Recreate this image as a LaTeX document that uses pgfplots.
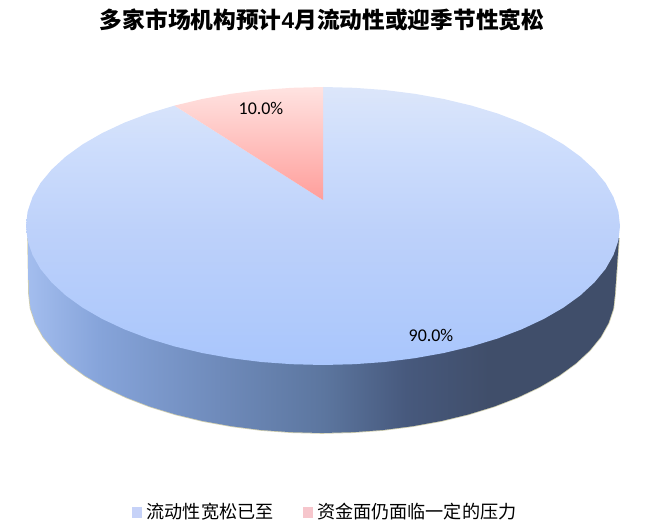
\documentclass[border=0pt]{standalone}
\usepackage{pgfplots}
\usepackage{pgfplotstable}
\usepackage{fontspec}
\pgfplotsset{compat=1.18}
\setmainfont{Carlito}
\newfontfamily\cjk{Noto Sans CJK SC}
\newfontfamily\arialb{Liberation Sans}

\definecolor{wallA}{HTML}{A3BDEE}
\definecolor{wallB}{HTML}{86A4DA}
\definecolor{wallC}{HTML}{6F8BBB}
\definecolor{wallD}{HTML}{5C769F}
\definecolor{wallE}{HTML}{47597D}
\definecolor{wallF}{HTML}{404E6A}
\definecolor{blueA}{HTML}{DCE6FA}
\definecolor{blueB}{HTML}{CDDDFC}
\definecolor{blueC}{HTML}{BDD1FA}
\definecolor{blueD}{HTML}{A9C6FC}
\definecolor{pinkTop}{HTML}{FFE3E1}
\definecolor{pinkBot}{HTML}{FF9E9B}
\definecolor{legBlue}{HTML}{C6D2F8}
\definecolor{legPink}{HTML}{F6C6CC}
% wall of the pie, light on the left and dark on the right
\pgfdeclarehorizontalshading{wall}{100bp}{
  color(0bp)=(wallA); color(25bp)=(wallA); color(31bp)=(wallB);
  color(41bp)=(wallC); color(50bp)=(wallD); color(57bp)=(wallE);
  color(64bp)=(wallF); color(100bp)=(wallF)}
% top of the big slice, stops run from the bottom up
\pgfdeclareverticalshading{bigslice}{100bp}{
  color(0bp)=(blueD); color(25bp)=(blueD); color(49bp)=(blueC);
  color(64bp)=(blueB); color(75bp)=(blueA); color(100bp)=(blueA)}

% bottom rim, pixel coordinates of the picture
\pgfplotstableread{
x y
619 238
615 294
613.4 308.5
608.6 322.9
600.7 337.0
589.7 350.5
575.7 363.5
559.0 375.7
539.7 387.0
518.0 397.3
494.2 406.5
468.5 414.4
441.2 421.0
412.5 426.2
382.9 430.0
352.6 432.2
322 433
291.4 432.2
261.1 430.0
231.5 426.2
202.8 421.0
175.5 414.4
149.8 406.5
126.0 397.3
104.3 387.0
85.0 375.7
68.3 363.5
54.3 350.5
43.3 337.0
35.4 322.9
30.6 308.5
29 294
28 238
}\rim

\begin{document}
\begin{tikzpicture}
\begin{axis}[
    scale only axis,
    width=656bp, height=532bp,
    xmin=0, xmax=656, ymin=0, ymax=532,
    y dir=reverse,
    hide axis,
    clip=false,
    title={\cjk\bfseries 多家市场机构预计{\arialb 4}月流动性或迎季节性宽松},
    title style={at={(0.491,0.951)}, anchor=center, font=\fontsize{22.8}{25}\selectfont},
    legend columns=2,
    legend style={at={(0.496,0.039)}, anchor=center, draw=none, fill=none,
        font=\cjk\fontsize{18.2}{20}\selectfont,
        /tikz/every odd column/.append style={column sep=3bp},
        /tikz/every even column/.append style={column sep=27bp}},
    legend image code/.code={\fill[#1] (0bp,-6bp) rectangle (9bp,4bp);},
]
\addlegendimage{legBlue}
\addlegendentry{流动性宽松已至}
\addlegendimage{legPink}
\addlegendentry{资金面仍面临一定的压力}

% keeps the page as large as the axis
\path (axis cs:0,0) (axis cs:656,532);

% soft shadow under the wall
\addplot[draw=gray!70!yellow, line width=1.6pt, opacity=0.6] table {\rim};
% wall
\addplot[draw=none, shading=wall] table {\rim} -- cycle;

% 90% slice
\addplot[draw=none, shading=bigslice] coordinates {
(323,200) (323,87)
(354.0,87.8) (384.7,90.0) (414.8,93.8) (443.8,99.0) (471.5,105.6)
(497.6,113.5) (521.7,122.7) (543.7,133.0) (563.3,144.3) (580.2,156.5)
(594.3,169.5) (605.5,183.0) (613.5,197.1) (618.4,211.5) (620,226)
(618.4,240.5) (613.5,254.9) (605.5,269.0) (594.3,282.5) (580.2,295.5)
(563.3,307.7) (543.7,319.0) (521.7,329.3) (497.6,338.5) (471.5,346.4)
(443.8,353.0) (414.8,358.2) (384.7,362.0) (354.0,364.2) (323,365)
(292.0,364.2) (261.3,362.0) (231.2,358.2) (202.2,353.0) (174.5,346.4)
(148.4,338.5) (124.3,329.3) (102.3,319.0) (82.7,307.7) (65.8,295.5)
(51.7,282.5) (40.5,269.0) (32.5,254.9) (27.6,240.5) (26,226)
(27.6,211.5) (32.5,197.1) (40.5,183.0) (51.7,169.5) (65.8,156.5)
(82.7,144.3) (102.3,133.0) (124.3,122.7) (148.4,113.5) (174.5,105.6)
} -- cycle;

% 10% slice
\addplot[draw=none, top color=pinkTop, bottom color=pinkBot] coordinates {
(323,200) (174.5,105.6) (202.2,99.0) (231.2,93.8) (261.3,90.0) (292.0,87.8) (323,87)
} -- cycle;

\node[font=\fontsize{18}{20}\selectfont] at (axis cs:261,108) {10.0\%};
\node[font=\fontsize{18}{20}\selectfont] at (axis cs:431,335) {90.0\%};
\end{axis}
\end{tikzpicture}
\end{document}
